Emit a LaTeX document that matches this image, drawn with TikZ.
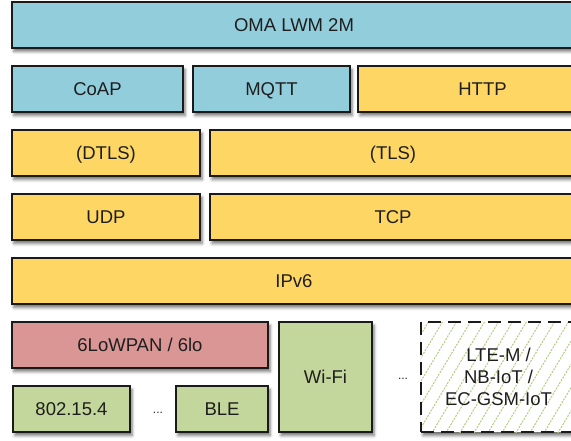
\documentclass[tikz,border=0pt]{standalone}
\usepackage{fontspec}
\setmainfont{Liberation Sans}
\usetikzlibrary{shadows.blur}

\definecolor{layerblue}{RGB}{146,205,220}
\definecolor{layeryellow}{RGB}{253,214,100}
\definecolor{layerred}{RGB}{217,150,148}
\definecolor{layergreen}{RGB}{195,214,155}
\definecolor{hatchgreen}{RGB}{176,204,128}
\definecolor{edgedark}{RGB}{26,26,26}
\definecolor{textdark}{RGB}{30,30,30}

\tikzset{
  layerfont/.style={font=\fontsize{18.5}{22}\selectfont},
  layer/.style={draw=edgedark, line width=1.4pt, rectangle, inner sep=0pt, outer sep=0pt,
    text=textdark, layerfont, align=center, text height=13.2pt, text depth=0pt,
    blur shadow={shadow xshift=2pt, shadow yshift=-3.5pt, shadow blur radius=3pt, shadow opacity=55}},
  ghost/.style={rectangle, inner sep=0pt, outer sep=0pt, text=textdark, layerfont, align=center},
  hatchline/.style={hatchgreen, line width=1pt, dash pattern=on 2pt off 1.2pt},
  ellipsis/.style={text=textdark, font=\fontsize{12}{14}\selectfont, inner sep=0pt, anchor=base}
}

% \layerbox{name}{style}{x1}{y1}{x2}{y2}{text}
\newcommand\layerbox[7]{%
  \pgfmathsetmacro\lbw{#5-#3}%
  \pgfmathsetmacro\lbh{#6-#4}%
  \node[#2, minimum width=\lbw pt, minimum height=\lbh pt] (#1) at ({(#3+#5)/2},{(#4+#6)/2}) {#7};%
}

\begin{document}
\begin{tikzpicture}[x=1pt, y=-1pt]
\useasboundingbox (0,0) rectangle (571,441);

% application layer
\layerbox{oma}{layer, fill=layerblue}{12}{2}{576}{48}{OMA LWM 2M}
\layerbox{coap}{layer, fill=layerblue}{12}{66}{183}{112}{CoAP}
\layerbox{mqtt}{layer, fill=layerblue}{193}{66}{350}{112}{MQTT}
\layerbox{http}{layer, fill=layeryellow}{358}{66}{607}{112}{HTTP}

% security and transport
\layerbox{dtls}{layer, fill=layeryellow}{12}{130}{200}{176}{(DTLS)}
\layerbox{tls}{layer, fill=layeryellow}{210}{130}{576}{176}{(TLS)}
\layerbox{udp}{layer, fill=layeryellow}{12}{194}{200}{240}{UDP}
\layerbox{tcp}{layer, fill=layeryellow}{210}{194}{576}{240}{TCP}

% network layer
\layerbox{ipv}{layer, fill=layeryellow}{12}{258}{576}{304}{IPv6}

% adaptation and link layers
\layerbox{lowpan}{layer, fill=layerred}{12}{322}{268}{368}{6LoWPAN / 6lo}
\layerbox{ieee}{layer, fill=layergreen}{13}{386}{130}{432}{802.15.4}
\layerbox{ble}{layer, fill=layergreen}{176}{386}{268}{432}{BLE}
\layerbox{wifi}{layer, fill=layergreen}{279}{322}{372}{432}{Wi-Fi}

% cellular IoT: white box, green hatching, dashed outline
\layerbox{lteback}{layer, draw=none, fill=white}{421}{322}{576}{432}{}
\begin{scope}
  \clip (421,322) rectangle (576,432);
  \foreach \k in {0,...,18}
    \draw[hatchline] ({360+\k*14},436) -- ++(72,-120);
\end{scope}
\layerbox{lte}{ghost, draw=edgedark, line width=2.6pt, dash pattern=on 13pt off 7pt}{421}{322}{576}{432}{LTE-M /\\NB-IoT /\\EC-GSM-IoT}

% gaps between technologies
\node[ellipsis] (dots1) at (158,413) {...};
\node[ellipsis] (dots2) at (403,379) {...};
\end{tikzpicture}
\end{document}
